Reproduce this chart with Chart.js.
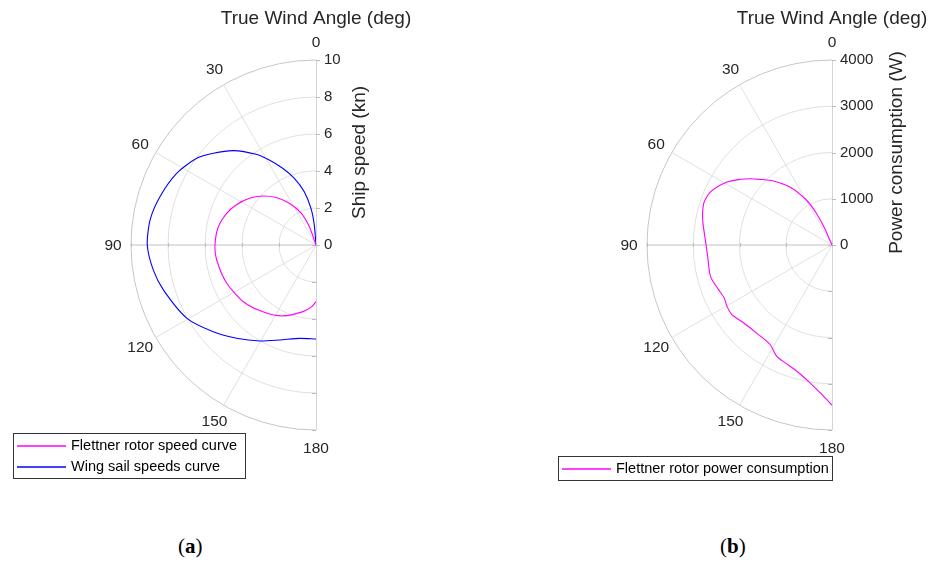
<!DOCTYPE html>
<html>
<head>
<meta charset="utf-8">
<script src="https://cdn.jsdelivr.net/npm/chart.js@4"></script>
<style>
  body { margin: 0; background: #fff; width: 928px; height: 563px; position: relative; overflow: hidden; }
  canvas { position: absolute; top: 0; }
  #chartA { left: 0; }
  #chartB { left: 464px; }
  .cap { position: absolute; top: 534px; font: 21px "Liberation Serif", serif; color: #000; }
</style>
</head>
<body>
<canvas id="chartA" width="464" height="500"></canvas>
<canvas id="chartB" width="464" height="500"></canvas>
<div class="cap" style="left:178px">(<b>a</b>)</div>
<div class="cap" style="left:720px">(<b>b</b>)</div>
<script>
const angleTicks = [0, 30, 60, 90, 120, 150, 180];
const speedTicks = [0, 2, 4, 6, 8, 10];
const powerTicks = [0, 1000, 2000, 3000, 4000];

// Flettner rotor speed (kn) vs true wind angle (deg)
const rotorSpeedAngle = [0, 20, 25, 32.6, 40, 47.4, 55, 63.4, 70.5, 79.4, 90, 98.6, 113, 128, 142, 155, 169, 176, 180];
const rotorSpeed = [0, 1.05, 1.9, 2.68, 3.35, 3.91, 4.4, 4.83, 5.12, 5.37, 5.46, 5.43, 5.25, 4.98, 4.6, 4.23, 3.67, 3.34, 3.06];

// Wing sail speed (kn)
const wingSpeedAngle = [0, 4.9, 7.8, 12.4, 18, 23.5, 28.8, 33.5, 41.2, 48.2, 54, 62.8, 72.8, 81.4, 90, 98.7, 106.4, 119.5, 130.2, 139.6, 149.7, 159.2, 170.3, 180];
const wingSpeed = [0, 1.09, 2.0, 2.95, 3.79, 4.52, 5.24, 5.88, 6.78, 7.44, 7.97, 8.47, 8.83, 9.07, 9.12, 8.9, 8.6, 8.03, 7.27, 6.62, 6.01, 5.49, 5.12, 5.08];

// Flettner rotor power consumption (W)
const rotorPowerAngle = [0, 23.6, 26.2, 29.6, 36, 42.5, 47.6, 51, 54.4, 59.1, 66.5, 72.1, 79.1, 87.8, 95.3, 103, 106.2, 111.5, 116.2, 120.3, 124.8, 131.3, 140.6, 148.1, 153.5, 158.2, 164.3, 170.8, 176, 180];
const rotorPower = [0, 392, 760, 1113, 1549, 1877, 2105, 2278, 2440, 2648, 2869, 2916, 2847, 2740, 2700, 2714, 2701, 2636, 2596, 2630, 2636, 2549, 2506, 2534, 2683, 2740, 2830, 3013, 3234, 3462];

const textColor = "#262626";
const font = '"Liberation Sans", Arial, sans-serif';

// theta = 0 at top, increasing counterclockwise (towards the left)
function toXY(angles, radii) {
  return angles.map((a, i) => {
    const t = a * Math.PI / 180;
    return { x: -radii[i] * Math.sin(t), y: radii[i] * Math.cos(t) };
  });
}

const halfPolar = {
  id: "halfPolar",
  beforeDatasetsDraw(chart, args, opts) {
    const { ctx } = chart;
    const xs = chart.scales.x, ys = chart.scales.y;
    const cx = xs.getPixelForValue(0), cy = ys.getPixelForValue(0);
    const rMax = opts.rTicks[opts.rTicks.length - 1];
    const R = cy - ys.getPixelForValue(rMax);
    ctx.save();
    ctx.lineWidth = 1;

    // rings
    opts.rTicks.forEach((v) => {
      if (v === 0) return;
      const r = cy - ys.getPixelForValue(v);
      ctx.strokeStyle = v === rMax ? "#c6c6c6" : "#e0e0e0";
      ctx.beginPath();
      ctx.arc(cx, cy, r, -Math.PI / 2, Math.PI / 2, true);
      ctx.stroke();
    });

    // spokes
    angleTicks.forEach((a) => {
      if (a === 0 || a === 180) return;
      const t = a * Math.PI / 180;
      ctx.strokeStyle = "#e0e0e0";
      ctx.lineWidth = a === 90 ? 2 : 1;
      ctx.beginPath();
      ctx.moveTo(cx, cy);
      ctx.lineTo(cx - R * Math.sin(t), cy - R * Math.cos(t));
      ctx.stroke();
    });

    // radial axis line with ticks
    ctx.lineWidth = 1;
    ctx.strokeStyle = "#d4d4d4";
    ctx.beginPath();
    ctx.moveTo(cx + 0.5, cy - R);
    ctx.lineTo(cx + 0.5, cy + R);
    ctx.stroke();
    ctx.strokeStyle = "#bcbcbc";
    opts.rTicks.forEach((v) => {
      const r = cy - ys.getPixelForValue(v);
      ctx.beginPath();
      ctx.moveTo(cx, Math.round(cy - r) + 0.5);
      ctx.lineTo(cx + 4, Math.round(cy - r) + 0.5);
      ctx.moveTo(cx - 4, Math.round(cy + r) + 0.5);
      ctx.lineTo(cx, Math.round(cy + r) + 0.5);
      ctx.moveTo(Math.round(cx - r) + 0.5, cy - 2);
      ctx.lineTo(Math.round(cx - r) + 0.5, cy + 2);
      ctx.stroke();
    });

    // angle labels
    ctx.fillStyle = textColor;
    ctx.font = "15.5px " + font;
    ctx.textAlign = "center";
    ctx.textBaseline = "middle";
    angleTicks.forEach((a) => {
      const t = a * Math.PI / 180;
      const rl = R + 18;
      ctx.fillText(String(a), cx - rl * Math.sin(t), cy - rl * Math.cos(t) + 1);
    });

    // radial tick labels
    ctx.font = "15px " + font;
    ctx.textAlign = "left";
    opts.rTicks.forEach((v) => {
      ctx.fillText(String(v), cx + 8, ys.getPixelForValue(v));
    });

    // titles
    ctx.font = "19px " + font;
    ctx.textAlign = "center";
    ctx.fillText("True Wind Angle (deg)", cx, 19);
    ctx.save();
    ctx.translate(cx + opts.rTitleOffset, (cy + cy - R) / 2);
    ctx.rotate(-Math.PI / 2);
    ctx.fillText(opts.rTitle, 0, 0);
    ctx.restore();
    ctx.restore();
  },
  afterDraw(chart, args, opts) {
    const { ctx } = chart;
    const lg = opts.legend;
    ctx.save();
    ctx.fillStyle = "#fff";
    ctx.fillRect(lg.x, lg.y, lg.w, lg.h);
    ctx.strokeStyle = "#333";
    ctx.lineWidth = 1;
    ctx.strokeRect(lg.x + 0.5, lg.y + 0.5, lg.w, lg.h);
    ctx.font = "14.5px " + font;
    ctx.textAlign = "left";
    ctx.textBaseline = "middle";
    chart.data.datasets.forEach((ds, i) => {
      const y = lg.y + lg.rowTop + i * lg.rowStep;
      ctx.strokeStyle = ds.borderColor;
      ctx.lineWidth = 1.5;
      ctx.beginPath();
      ctx.moveTo(lg.x + 4, y);
      ctx.lineTo(lg.x + 53, y);
      ctx.stroke();
      ctx.fillStyle = "#000";
      ctx.fillText(ds.label, lg.x + 58, y);
    });
    ctx.restore();
  },
};

function makeChart(id, datasets, rTicks, pad, polarOpts) {
  const rMax = rTicks[rTicks.length - 1];
  return new Chart(document.getElementById(id), {
    type: "scatter",
    data: { datasets },
    options: {
      responsive: false,
      animation: false,
      events: [],
      layout: { padding: pad },
      plugins: {
        legend: { display: false },
        tooltip: { enabled: false },
        halfPolar: Object.assign({ rTicks }, polarOpts),
      },
      scales: {
        x: { type: "linear", min: -rMax, max: 0, display: false },
        y: { type: "linear", min: -rMax, max: rMax, display: false },
      },
    },
    plugins: [halfPolar],
  });
}

function line(label, color, angles, values) {
  return {
    label,
    data: toXY(angles, values),
    showLine: true,
    borderColor: color,
    borderWidth: 1.1,
    pointRadius: 0,
    tension: 0.25,
    fill: false,
  };
}

makeChart(
  "chartA",
  [
    line("Flettner rotor speed curve", "#ff00ff", rotorSpeedAngle, rotorSpeed),
    line("Wing sail speeds curve", "#0000ff", wingSpeedAngle, wingSpeed),
  ],
  speedTicks,
  { left: 131, right: 148, top: 60, bottom: 70 },
  {
    rTitle: "Ship speed (kn)",
    rTitleOffset: 44,
    legend: { x: 13, y: 433, w: 232, h: 45, rowTop: 13, rowStep: 21 },
  }
);

makeChart(
  "chartB",
  [line("Flettner rotor power consumption", "#ff00ff", rotorPowerAngle, rotorPower)],
  powerTicks,
  { left: 183, right: 96, top: 60, bottom: 70 },
  {
    rTitle: "Power consumption (W)",
    rTitleOffset: 65,
    legend: { x: 94, y: 456, w: 274, h: 24, rowTop: 13, rowStep: 21 },
  }
);
</script>
</body>
</html>
